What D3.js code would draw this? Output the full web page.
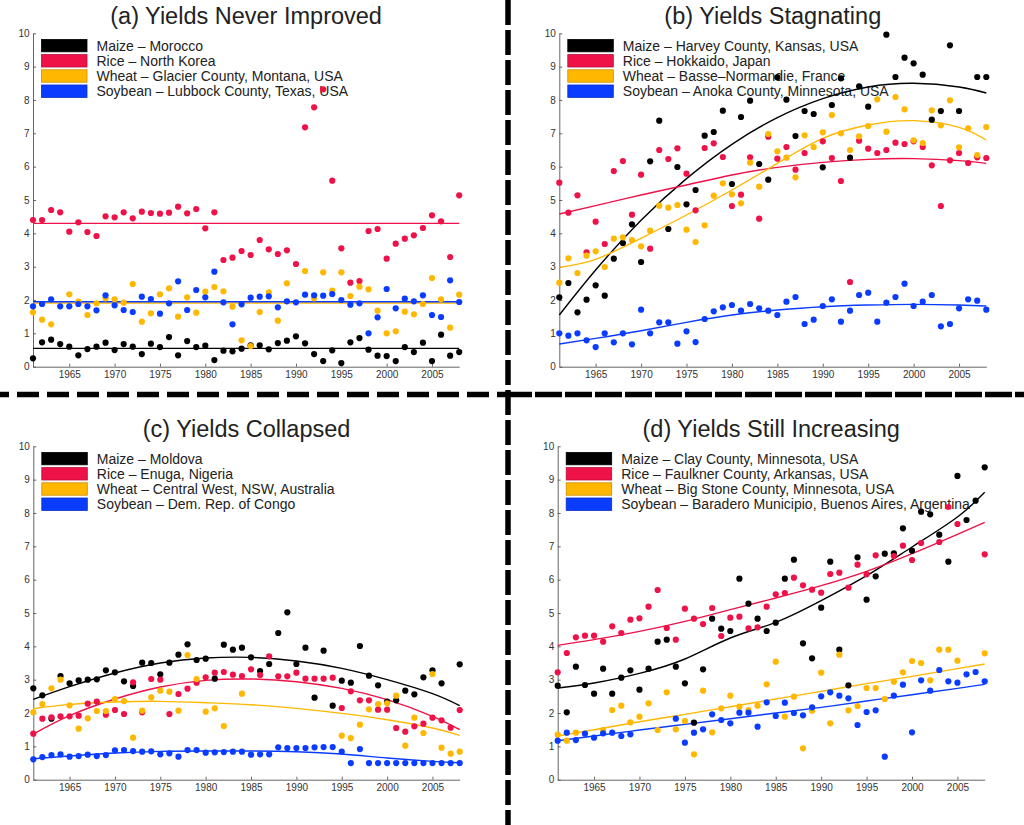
<!DOCTYPE html>
<html><head><meta charset="utf-8">
<script src="https://cdn.jsdelivr.net/npm/d3@7"></script>
<style>
body{margin:0;background:#fff}
svg{display:block}
text{font-family:"Liberation Sans",Arial,Helvetica,sans-serif}
</style>
</head><body>
<svg id="chart" width="1024" height="825"></svg>
<script>
// ---------- DATA ----------
const years = d3.range(1961, 2009);            // 1961..2008
const xTickYears = [1965,1970,1975,1980,1985,1990,1995,2000,2005];
const yTickValues = [0,1,2,3,4,5,6,7,8,9,10];
const fitYears = [1961,1965,1970,1975,1980,1985,1990,1995,2000,2005,2008];
const cropNames = ["Maize","Rice","Wheat","Soybean"];

const titles = ["(a) Yields Never Improved","(b) Yields Stagnating","(c) Yields Collapsed","(d) Yields Still Increasing"];

const placesA = ["Morocco","North Korea","Glacier County, Montana, USA","Lubbock County, Texas, USA"];
const placesB = ["Harvey County, Kansas, USA","Hokkaido, Japan","Basse\u2013Normandie, France","Anoka County, Minnesota, USA"];
const placesC = ["Moldova","Enuga, Nigeria","Central West, NSW, Australia","Dem. Rep. of Congo"];
const placesD = ["Clay County, Minnesota, USA","Faulkner County, Arkansas, USA","Big Stone County, Minnesota, USA","Baradero Municipio, Buenos Aires, Argentina"];

// (a) Yields never improved
const aMaize = [0.25,0.73,0.81,0.68,0.60,0.34,0.53,0.60,0.72,0.50,
  0.68,0.60,0.38,0.69,0.59,0.89,0.34,0.77,0.59,0.63,
  0.20,0.48,0.46,0.54,0.64,0.64,0.52,0.71,0.78,0.91,
  0.70,0.38,0.17,0.49,0.11,0.73,0.86,0.51,0.33,0.32,
  0.17,0.59,0.44,0.72,0.17,0.96,0.33,0.44];
const aRice = [4.40,4.40,4.70,4.63,4.05,4.33,4.04,3.92,4.51,4.48,
  4.63,4.45,4.65,4.61,4.59,4.62,4.80,4.60,4.73,4.15,
  4.63,3.20,3.27,3.47,3.35,3.80,3.52,3.38,3.49,3.08,
  7.18,7.78,8.32,5.58,3.55,2.52,2.57,4.07,4.13,3.24,
  3.69,3.84,3.94,4.16,4.54,4.36,3.29,5.14];
const aWheat = [1.63,1.41,1.27,null,2.17,1.95,1.55,1.90,2.05,2.02,
  1.92,2.48,1.35,1.60,2.17,2.35,1.50,2.08,1.62,2.25,
  2.39,2.26,1.80,0.79,0.62,1.64,2.23,1.38,2.50,null,
  2.87,2.05,2.83,2.28,2.83,2.12,2.40,2.32,1.68,1.00,
  1.06,1.65,1.57,1.88,2.66,2.02,1.17,2.16];
const aSoy = [1.81,1.88,2.02,1.81,1.81,1.88,1.81,1.69,2.14,1.84,
  1.70,1.64,2.10,2.03,1.59,1.90,2.56,1.70,2.30,2.08,
  2.85,1.93,1.27,1.87,2.07,2.10,2.11,1.78,1.96,1.93,
  2.16,2.14,2.13,2.18,2.00,1.86,1.90,1.00,1.48,2.33,
  1.75,2.04,1.96,2.14,1.55,1.49,2.59,1.94];
const aFitMaize = [0.55,0.55,0.55,0.55,0.55,0.55,0.55,0.55,0.55,0.55,0.55];
const aFitRice  = [4.30,4.30,4.30,4.30,4.30,4.30,4.30,4.30,4.30,4.30,4.30];
const aFitWheat = [1.91,1.91,1.91,1.91,1.91,1.91,1.91,1.91,1.91,1.91,1.91];
const aFitSoy   = [1.95,1.95,1.95,1.95,1.95,1.95,1.95,1.95,1.95,1.95,1.95];

// (b) Yields stagnating
const bMaize = [2.08,2.51,1.63,2.01,2.44,2.13,3.24,3.71,4.27,3.14,
  6.16,7.38,4.13,5.99,4.87,5.30,6.93,7.04,7.68,5.48,
  7.49,7.98,6.08,5.61,8.68,8.01,6.92,7.67,7.58,5.98,
  7.85,8.65,6.27,8.41,7.80,null,9.96,8.69,9.27,9.10,
  8.76,7.41,7.67,9.64,7.67,null,8.69,8.69];
const bRice = [5.52,4.62,5.14,3.43,4.35,3.68,5.87,6.17,4.56,5.76,
  3.54,6.50,6.23,6.55,5.79,4.69,6.56,6.70,6.29,4.82,
  5.16,6.28,4.44,6.90,6.24,6.59,5.91,6.41,null,6.76,
  6.26,5.57,2.54,6.78,6.54,6.41,6.50,6.72,6.68,6.76,
  6.59,6.04,4.82,6.19,6.41,6.11,6.28,6.26];
const bWheat = [2.52,3.25,2.81,3.33,3.46,2.99,3.84,3.88,3.80,3.61,
  4.08,4.83,4.77,4.85,4.11,3.74,4.24,5.13,5.50,5.17,
  4.90,6.12,5.40,6.98,6.46,6.27,5.68,6.94,6.59,7.03,
  7.55,7.00,6.50,6.91,7.22,8.02,7.05,8.09,7.72,6.79,
  6.71,7.69,7.24,7.99,6.58,7.15,6.35,7.19];
const bSoy = [1.00,0.93,1.00,0.79,0.59,1.00,0.73,1.00,0.67,1.71,
  1.00,1.33,1.33,0.69,1.06,0.74,1.43,1.66,1.78,1.85,
  1.68,1.88,1.75,1.68,1.55,1.95,2.09,1.28,1.41,1.82,
  2.02,1.35,1.68,2.15,2.22,1.35,1.92,2.09,2.49,1.82,
  1.95,2.15,1.21,1.28,1.75,2.02,1.98,1.71];
const bFitMaize = [1.55,2.90,4.39,5.64,6.67,7.47,8.04,8.39,8.50,8.39,8.21];
const bFitRice  = [4.58,4.83,5.15,5.45,5.75,5.98,6.13,6.22,6.24,6.18,6.10];
const bFitWheat = [2.98,3.22,3.85,4.55,5.30,6.10,6.85,7.25,7.38,7.18,6.80];
const bFitSoy   = [0.68,0.85,1.08,1.33,1.55,1.70,1.80,1.85,1.87,1.85,1.82];

// (c) Yields collapsed
const cMaize = [2.74,2.53,1.83,3.11,2.89,2.98,3.00,3.01,3.28,3.22,
  2.95,2.81,3.51,3.50,3.16,3.51,3.75,4.06,3.59,3.63,
  3.03,4.05,3.90,3.96,3.67,3.26,3.47,4.40,5.02,3.47,
  3.96,2.46,3.87,2.22,2.97,2.91,4.01,3.12,2.83,2.34,
  2.38,2.67,2.56,3.07,3.28,2.89,null,3.46];
const cRice = [1.38,1.83,1.87,1.90,1.90,1.92,2.28,2.34,1.95,2.09,
  1.97,2.92,2.02,3.02,3.00,1.97,2.57,2.73,2.91,3.07,
  3.21,3.23,3.15,3.11,3.31,3.14,3.70,3.10,3.10,3.21,
  3.03,3.03,3.03,3.06,2.15,2.65,2.38,2.38,2.10,2.10,
  1.55,1.44,1.60,1.68,1.86,1.78,1.56,2.09];
const cWheat = [2.02,2.27,2.74,3.00,2.23,1.53,1.84,2.06,2.06,2.42,
  2.36,1.26,2.07,2.47,2.67,2.64,2.07,3.74,3.02,2.04,
  2.14,1.61,null,2.58,null,null,null,null,null,null,
  null,null,null,null,1.32,1.25,1.65,2.11,2.27,2.29,
  2.52,1.02,1.86,1.40,3.17,0.96,0.78,0.84];
const cSoy = [0.61,0.68,0.74,0.76,0.69,0.71,0.75,0.71,0.74,0.88,
  0.89,0.86,0.84,0.85,0.76,0.79,0.69,0.89,0.89,0.81,
  0.82,0.83,0.84,0.84,0.75,0.76,0.76,0.97,0.95,0.95,
  0.95,0.97,0.98,0.98,0.84,0.50,0.92,0.50,0.50,0.50,
  0.50,0.50,0.50,0.50,0.50,0.50,0.50,0.50];
const cFitMaize = [2.41,2.79,3.20,3.50,3.65,3.67,3.56,3.34,3.00,2.58,2.22];
const cFitRice  = [1.37,1.92,2.42,2.78,2.98,3.02,2.94,2.74,2.40,1.90,1.50];
const cFitWheat = [2.13,2.26,2.33,2.35,2.31,2.25,2.14,1.99,1.80,1.55,1.33];
const cFitSoy   = [0.63,0.71,0.80,0.85,0.86,0.86,0.84,0.77,0.65,0.55,0.51];

// (d) Yields still increasing
const dMaize = [2.82,2.02,3.39,2.84,2.58,3.33,2.58,3.06,3.28,2.70,
  3.33,4.14,4.20,3.39,2.89,1.71,3.31,4.83,4.53,4.46,
  6.03,5.28,4.83,4.46,4.71,6.03,6.60,4.09,3.64,5.16,
  6.54,3.90,2.83,6.67,5.40,6.10,6.78,6.79,7.54,6.87,
  8.04,7.96,7.35,6.54,9.11,7.79,8.37,9.37];
const dRice = [3.22,3.80,4.27,4.32,4.32,4.14,4.60,4.40,4.80,4.84,
  5.19,5.69,4.55,4.20,5.13,4.83,4.67,5.15,4.31,4.86,
  4.89,4.54,4.57,5.19,5.56,5.60,6.06,5.83,5.70,5.61,
  6.17,6.21,5.76,6.45,6.16,6.73,null,6.71,7.02,6.59,
  7.10,null,7.13,8.18,7.67,null,null,6.76];
const dWheat = [1.35,1.17,1.41,null,null,1.49,2.09,2.22,1.72,1.89,
  2.29,1.49,2.62,1.51,1.76,0.76,2.67,1.42,2.14,2.52,
  2.19,2.09,2.22,2.86,3.54,1.89,2.49,0.94,2.07,3.21,
  1.69,3.75,2.08,2.21,2.75,2.75,2.42,2.94,3.22,3.56,
  3.50,2.98,3.90,3.90,3.57,null,null,3.79];
const dSoy = [1.17,1.41,1.19,1.38,1.26,1.39,1.41,1.31,1.36,null,
  null,null,null,1.83,1.11,1.41,1.51,1.96,1.79,1.69,
  2.01,2.01,1.59,2.32,1.91,2.31,2.00,1.93,2.17,2.50,
  2.62,2.52,2.44,1.64,2.03,2.08,0.69,2.52,2.85,1.42,
  2.98,2.67,3.29,2.95,2.91,3.16,3.23,2.95];
const dFitMaize = [2.75,2.90,3.19,3.62,4.25,4.72,5.37,6.12,6.98,7.88,8.62];
const dFitRice  = [4.03,4.20,4.45,4.75,5.10,5.45,5.82,6.25,6.78,7.36,7.72];
const dFitWheat = [1.31,1.50,1.74,1.96,2.19,2.42,2.65,2.88,3.10,3.33,3.47];
const dFitSoy   = [1.17,1.31,1.49,1.66,1.83,2.00,2.17,2.36,2.55,2.74,2.86];

// ---------- STYLE / LAYOUT ----------
const colors = ["#000000","#ee1249","#ffb700","#0a3cff"];
const panels = [
  {title:titles[0], places:placesA, series:[aMaize,aRice,aWheat,aSoy], fits:[aFitMaize,aFitRice,aFitWheat,aFitSoy], x0:33.0, x1:459.2, yTop:33.3, yBot:366.7},
  {title:titles[1], places:placesB, series:[bMaize,bRice,bWheat,bSoy], fits:[bFitMaize,bFitRice,bFitWheat,bFitSoy], x0:559.3, x1:986.3, yTop:33.3, yBot:366.7},
  {title:titles[2], places:placesC, series:[cMaize,cRice,cWheat,cSoy], fits:[cFitMaize,cFitRice,cFitWheat,cFitSoy], x0:33.3, x1:459.7, yTop:446.3, yBot:779.7},
  {title:titles[3], places:placesD, series:[dMaize,dRice,dWheat,dSoy], fits:[dFitMaize,dFitRice,dFitWheat,dFitSoy], x0:557.7, x1:984.7, yTop:446.3, yBot:779.7}
];

const svg = d3.select("#chart");
svg.append("rect").attr("width",1024).attr("height",825).attr("fill","#fff");

panels.forEach(p => {
  const g = svg.append("g");
  const x = d3.scaleLinear().domain([1961,2008]).range([p.x0,p.x1]);
  const y = d3.scaleLinear().domain([0,10]).range([p.yBot,p.yTop]);

  // axes
  const ax = g.append("g").attr("transform",`translate(0,${p.yBot})`)
    .call(d3.axisBottom(x).tickValues(xTickYears).tickFormat(d3.format("d"))
      .tickSizeInner(-3).tickSizeOuter(0).tickPadding(4.5));
  const ay = g.append("g").attr("transform",`translate(${p.x0},0)`)
    .call(d3.axisLeft(y).tickValues(yTickValues).tickFormat(d3.format("d"))
      .tickSizeInner(-3).tickSizeOuter(0).tickPadding(3.5));
  [ax,ay].forEach(a => {
    a.select(".domain").attr("stroke","#555").attr("stroke-width",0.9);
    a.selectAll(".tick line").attr("stroke","#555").attr("stroke-width",0.9);
    a.selectAll(".tick text").attr("fill","#333").attr("font-size",10)
      .attr("font-family",'"Liberation Sans",Arial,Helvetica,sans-serif');
  });

  // title
  g.append("text").attr("x",(p.x0+p.x1)/2).attr("y",p.yTop-9.5)
    .attr("text-anchor","middle").attr("font-size",23.5).attr("fill","#222")
    .text(p.title);

  // legend
  const lg = g.append("g");
  cropNames.forEach((c,i) => {
    const cy = p.yTop + 12.3 + i*15.2;
    lg.append("rect").attr("x",p.x0+8.5).attr("y",cy-6.2).attr("width",45.5).attr("height",12.4)
      .attr("fill",colors[i]).attr("stroke",d3.color(colors[i]).darker(0.7)).attr("stroke-width",0.8);
    lg.append("text").attr("x",p.x0+63.5).attr("y",cy).attr("dy","0.36em")
      .attr("font-size",14).attr("fill","#222").text(c+" \u2013 "+p.places[i]);
  });

  // fit lines
  const line = d3.line().x(d=>x(d[0])).y(d=>y(d[1])).curve(d3.curveNatural);
  p.fits.forEach((f,i) => {
    g.append("path").datum(fitYears.map((yr,k)=>[yr,f[k]]))
      .attr("d",line).attr("fill","none").attr("stroke",colors[i]).attr("stroke-width",1.4);
  });

  // points
  p.series.forEach((s,i) => {
    g.append("g").selectAll("circle")
      .data(years.map((yr,k)=>[yr,s[k]]).filter(d=>d[1]!=null))
      .join("circle").attr("cx",d=>x(d[0])).attr("cy",d=>y(d[1])).attr("r",3.1)
      .attr("fill",colors[i]);
  });
});

// dashed separators
svg.append("line").attr("x1",508).attr("x2",508).attr("y1",0).attr("y2",825)
  .attr("stroke","#000").attr("stroke-width",5.5).attr("stroke-dasharray","25,5");
svg.append("line").attr("x1",0).attr("x2",505).attr("y1",394.5).attr("y2",394.5)
  .attr("stroke","#000").attr("stroke-width",5.5).attr("stroke-dasharray","22,8").attr("stroke-dashoffset",13);
svg.append("line").attr("x1",505).attr("x2",1024).attr("y1",394.5).attr("y2",394.5)
  .attr("stroke","#000").attr("stroke-width",5.5).attr("stroke-dasharray","27,3");
</script>
</body></html>
